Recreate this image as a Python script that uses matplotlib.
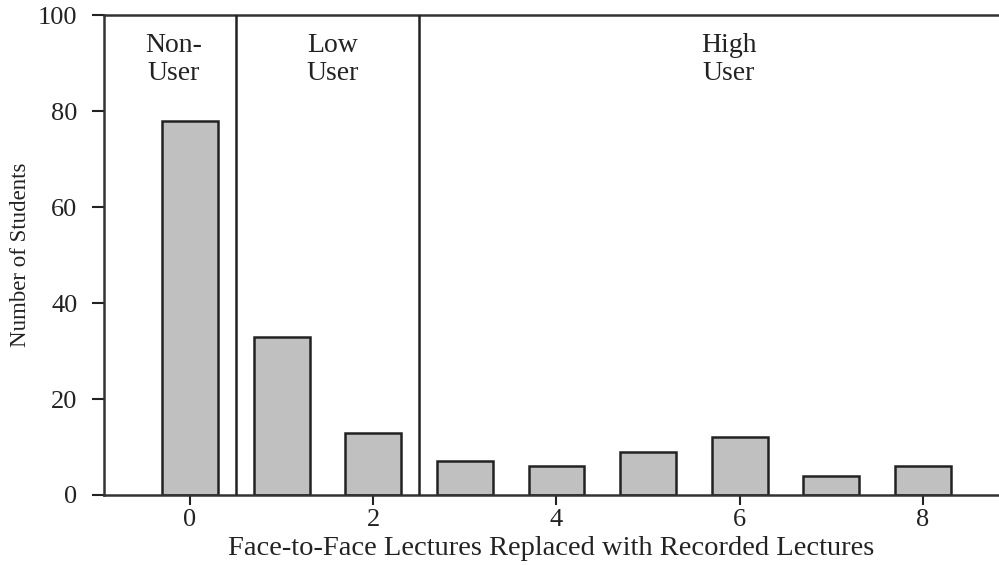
import matplotlib.pyplot as plt
import numpy as np

# ---------- Data ----------
lectures_replaced = [0, 1, 2, 3, 4, 5, 6, 7, 8]
num_students = [78, 33, 13, 7, 6, 9, 12, 4, 6]

group_labels = ['Non-\nUser', 'Low\nUser', 'High\nUser']
group_label_x = [-0.18, 1.56, 5.88]
group_dividers = [0.5, 2.5]

plt.rcParams['font.family'] = ['Liberation Serif', 'DejaVu Serif']

fig = plt.figure(figsize=(9.99, 5.65), dpi=100)
ax = fig.add_axes([0.104, 0.124, 0.896, 0.849])

# ---------- Bars ----------
ax.bar(lectures_replaced, num_students, width=0.61, color='#c0c0c0',
       edgecolor='#222222', linewidth=1.8, zorder=2)

# ---------- Group dividers + labels ----------
for xd in group_dividers:
    ax.axvline(xd, color='#222222', linewidth=1.8, zorder=3)
for lab, xl in zip(group_labels, group_label_x):
    ax.text(xl, 90.8, lab, ha='center', va='center', fontsize=20,
            linespacing=1.12, color='#222222')

# ---------- Axes ----------
ax.set_xlim(-0.94, 8.83)
ax.set_ylim(0, 100)
ax.set_xticks([0, 2, 4, 6, 8])
ax.set_yticks([0, 20, 40, 60, 80, 100])
ax.tick_params(axis='y', direction='out', length=9, width=1.5, pad=10,
               labelsize=19, colors='#222222')
ax.tick_params(axis='x', direction='out', length=7, width=1.5, pad=3,
               labelsize=19, colors='#222222')

for s in ['left', 'bottom', 'top']:
    ax.spines[s].set_linewidth(1.8)
    ax.spines[s].set_color('#333333')
ax.spines['right'].set_visible(False)

ax.set_xlabel('Face-to-Face Lectures Replaced with Recorded Lectures',
              fontsize=20.5, labelpad=4, color='#222222')
ax.set_ylabel('Number of Students', fontsize=16.5, labelpad=5, color='#222222')

fig.savefig('out.png', dpi=100)
